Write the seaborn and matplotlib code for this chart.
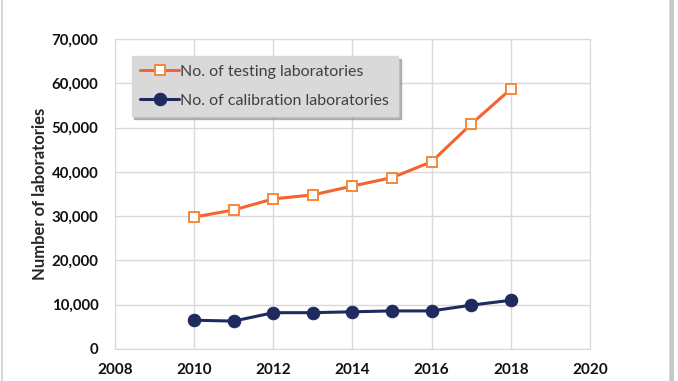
import matplotlib
matplotlib.use("Agg")
import matplotlib.pyplot as plt
import pandas as pd
import seaborn as sns
from matplotlib.ticker import FuncFormatter
from matplotlib.patches import Rectangle

years = [2010, 2011, 2012, 2013, 2014, 2015, 2016, 2017, 2018]
testing_labs = [29800, 31400, 33900, 34800, 36800, 38700, 42300, 50800, 58700]
calibration_labs = [6500, 6300, 8200, 8200, 8400, 8600, 8600, 9900, 11000]

df = pd.DataFrame({"Year": years,
                   "No. of testing laboratories": testing_labs,
                   "No. of calibration laboratories": calibration_labs})

sns.set_style("white")
plt.rcParams["font.family"] = ["Lato", "DejaVu Sans"]

fig = plt.figure(figsize=(6.78, 3.81), dpi=100)
ax = fig.add_axes([0.1696, 0.084, 0.7006, 0.8136])

# marco de la figura con sombra
fig.patches.append(Rectangle((0.003, -0.01), 0.985, 1.02, transform=fig.transFigure,
                             fill=False, edgecolor="#d0d0d0", linewidth=1.2))
fig.patches.append(Rectangle((0.988, -0.01), 0.006, 1.02, transform=fig.transFigure,
                             facecolor="#c8c8c8", edgecolor="none"))

sns.lineplot(data=df, x="Year", y="No. of testing laboratories", ax=ax,
             color="#f26531", linewidth=2.2, marker="s", markersize=7,
             markerfacecolor="white", markeredgecolor="#f5883a", markeredgewidth=1.4,
             label="No. of testing laboratories")
sns.lineplot(data=df, x="Year", y="No. of calibration laboratories", ax=ax,
             color="#1f2a5e", linewidth=2.2, marker="o", markersize=9,
             markeredgecolor="#1f2a5e", label="No. of calibration laboratories")

ax.set_xlim(2008, 2020)
ax.set_ylim(0, 70000)
ax.set_xticks(range(2008, 2021, 2))
ax.set_yticks(range(0, 70001, 10000))
ax.yaxis.set_major_formatter(FuncFormatter(lambda v, p: f"{int(v):,}"))
ax.grid(True, color="#d9d9d9", linewidth=1)
ax.set_axisbelow(True)
for s in ax.spines.values():
    s.set_color("#d9d9d9")
ax.tick_params(axis="x", length=0, labelsize=11, pad=10)
ax.tick_params(axis="y", length=0, labelsize=10.8, pad=12)
for lbl in ax.get_xticklabels() + ax.get_yticklabels():
    lbl.set_fontweight("bold")
    lbl.set_color("#111111")

ax.set_xlabel("")
ax.set_ylabel("Number of laboratories", fontsize=12, fontweight="bold")
ax.yaxis.set_label_coords(-0.142, 0.5)

leg = ax.legend(loc="upper left", bbox_to_anchor=(0.035, 0.945), frameon=True,
                fancybox=False, shadow={"color": "#8a8a8a", "alpha": 0.6},
                fontsize=11.5, handlelength=2.4, handletextpad=0.1,
                borderpad=0.55, labelspacing=0.9, borderaxespad=0)
leg.get_frame().set_facecolor("#d9d9d9")
leg.get_frame().set_edgecolor("#d9d9d9")
leg.get_frame().set_alpha(1)
for t in leg.get_texts():
    t.set_color("#404040")

fig.savefig("out.png", dpi=100)
